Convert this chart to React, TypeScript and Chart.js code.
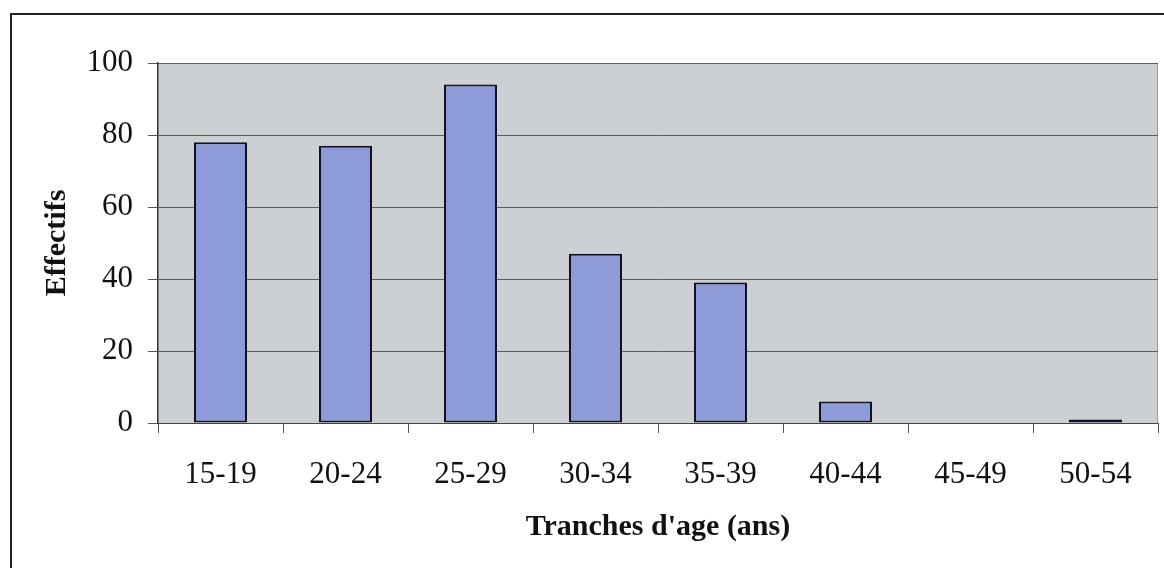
import React, { useEffect, useRef } from "react";
import { Chart, registerables } from "chart.js";

Chart.register(...registerables);

const categories = ["15-19", "20-24", "25-29", "30-34", "35-39", "40-44", "45-49", "50-54"];
const effectifs = [78, 77, 94, 47, 39, 6, 0, 1];
const yTicks = [0, 20, 40, 60, 80, 100];
const yTitle = "Effectifs";
const xTitle = "Tranches d'age (ans)";

const FONT = "'Liberation Serif', 'DejaVu Serif', serif";

const plotBg = {
  id: "plotBg",
  beforeDraw(chart: any) {
    const { ctx, chartArea } = chart;
    if (!chartArea) return;
    ctx.save();
    ctx.fillStyle = "#cdd0d3";
    ctx.fillRect(chartArea.left, chartArea.top, chartArea.right - chartArea.left, chartArea.bottom - chartArea.top);
    ctx.strokeStyle = "#9a9da0";
    ctx.lineWidth = 1;
    ctx.beginPath();
    ctx.moveTo(chartArea.left, chartArea.top + 0.5);
    ctx.lineTo(chartArea.right - 0.5, chartArea.top + 0.5);
    ctx.lineTo(chartArea.right - 0.5, chartArea.bottom);
    ctx.stroke();
    ctx.restore();
  },
};

export default function App() {
  const ref = useRef<HTMLCanvasElement | null>(null);

  useEffect(() => {
    if (!ref.current) return;
    const chart = new Chart(ref.current, {
      type: "bar",
      data: {
        labels: categories,
        datasets: [
          {
            data: effectifs,
            backgroundColor: "#8d9cd8",
            borderColor: "#111122",
            borderWidth: 2,
            borderSkipped: false,
            categoryPercentage: 1,
            barPercentage: 0.424,
          },
        ],
      },
      options: {
        animation: false,
        responsive: false,
        maintainAspectRatio: false,
        layout: { padding: { left: 0, right: 6, top: 63, bottom: 0 } },
        plugins: { legend: { display: false }, tooltip: { enabled: false } },
        scales: {
          x: {
            afterFit(scale: any) {
              scale.height = 145;
            },
            grid: {
              offset: true,
              drawOnChartArea: false,
              drawTicks: true,
              tickLength: 10,
              tickColor: "#555",
            },
            border: { color: "#444", width: 1 },
            ticks: {
              color: "#111",
              font: { family: FONT, size: 31 },
              padding: 23,
              maxRotation: 0,
            },
            title: {
              display: true,
              text: xTitle,
              color: "#111",
              font: { family: FONT, size: 30, weight: "bold" },
              padding: { top: 0, bottom: 23 },
            },
          },
          y: {
            min: 0,
            max: 100,
            afterFit(scale: any) {
              scale.width = 158;
            },
            afterBuildTicks(scale: any) {
              scale.ticks = yTicks.map((v) => ({ value: v }));
            },
            grid: {
              color: "#5a5c60",
              lineWidth: 1,
              drawTicks: true,
              tickLength: 10,
              tickColor: "#555",
            },
            border: { color: "#333", width: 1.5 },
            ticks: {
              color: "#111",
              font: { family: FONT, size: 31 },
              padding: 15,
            },
            title: {
              display: true,
              text: yTitle,
              color: "#111",
              font: { family: FONT, size: 30, weight: "bold" },
              padding: { top: 39, bottom: 0 },
            },
          },
        },
      },
      plugins: [plotBg],
    });
    return () => chart.destroy();
  }, []);

  return (
    <div style={{ position: "absolute", left: 0, top: 0, width: 1164, height: 568, overflow: "hidden", background: "#fff" }}>
      <div
        style={{
          position: "absolute",
          left: 10,
          top: 13,
          width: 1300,
          height: 700,
          borderTop: "2px solid #222",
          borderLeft: "2px solid #222",
        }}
      />
      <canvas ref={ref} width={1164} height={568} style={{ position: "absolute", left: 0, top: 0 }} />
    </div>
  );
}
